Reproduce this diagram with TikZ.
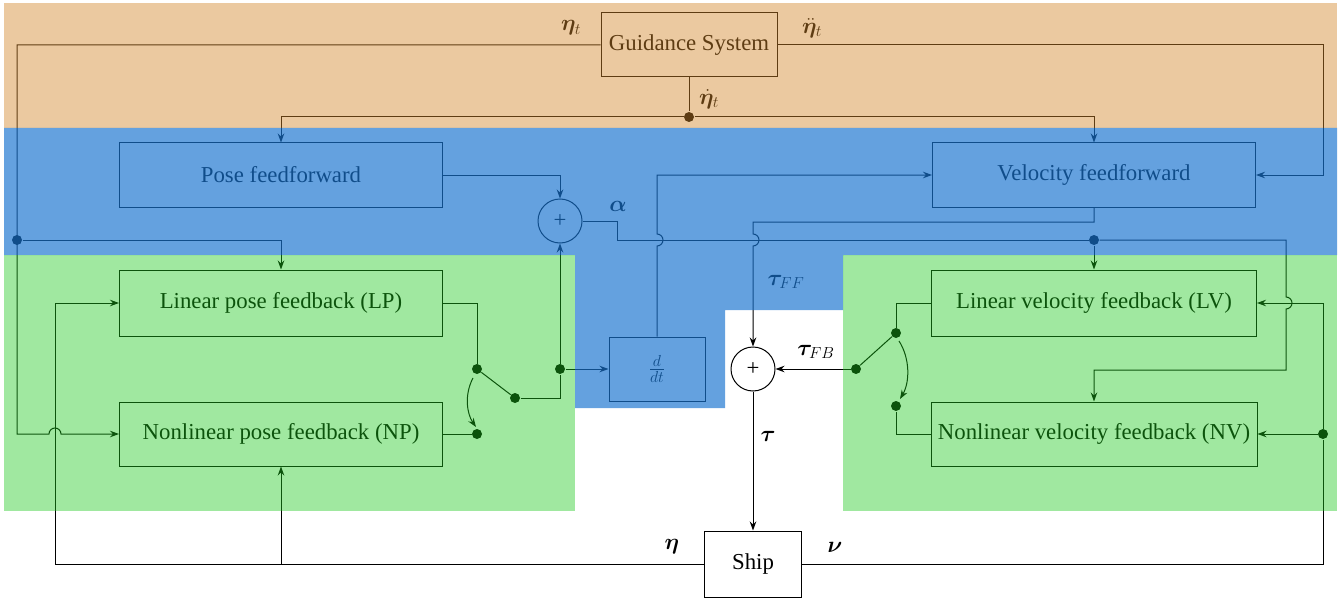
\RequirePackage{fix-cm}
\documentclass[tikz,border=0pt]{standalone}
\usepackage{amsmath,bm}
\usepackage{fontspec}
\setmainfont{Liberation Serif}
\usetikzlibrary{arrows.meta,positioning,calc}

\definecolor{guidcol}{RGB}{210,135,44}
\definecolor{ffcol}{RGB}{24,115,207}
\definecolor{fbcol}{RGB}{29,200,29}

\begin{document}
\begin{tikzpicture}[x=1pt, y=-1pt, >={Stealth[length=9pt,width=6.5pt]}, line width=1pt,
  font=\fontsize{22.8}{27}\selectfont]
\tikzstyle{block}=[draw, inner sep=0pt, minimum height=64pt]
\tikzstyle{summer}=[draw, circle, inner sep=0pt, minimum size=44pt]
\tikzstyle{junc}=[circle, fill, inner sep=0pt, minimum size=10pt]
\useasboundingbox (0,0) rectangle (1341,599);

% blocks
\node[block, minimum width=176pt]  (GS)   at (689,45)  {Guidance System};
\node[block, minimum width=323pt]  (PFF)  at (281,175) {Pose feedforward};
\node[block, minimum width=323pt]  (VFF)  at (1094,175) {Velocity feedforward};
\node[summer]                      (S1)   at (560,221) {+};
\node[block, minimum width=323pt, minimum height=66pt] (LP) at (281,303) {Linear pose feedback (LP)};
\node[block, minimum width=323pt]  (NP)   at (281,434) {Nonlinear pose feedback (NP)};
\node[block, minimum width=96pt]   (DDT)  at (657,369) {$\frac{d}{dt}$};
\node[summer]                      (S2)   at (753,369) {+};
\node[block, minimum width=325pt, minimum height=66pt] (LV) at (1094,303) {Linear velocity feedback (LV)};
\node[block, minimum width=326pt]  (NV)   at (1094,434) {Nonlinear velocity feedback (NV)};
\node[block, minimum width=97pt, minimum height=66pt] (SHIP) at (753,564) {Ship};

% junctions
\node[junc] (J1) at (17,240) {};
\node[junc] (J2) at (689,117) {};
\node[junc] (J3) at (1094,240) {};
\node[junc] (P1) at (477,369) {};
\node[junc] (P2) at (515,398) {};
\node[junc] (P3) at (477,434) {};
\node[junc] (P4) at (560,369) {};
\node[junc] (V1) at (896,333) {};
\node[junc] (V2) at (896,406) {};
\node[junc] (V3) at (856,369) {};
\node[junc] (N1) at (1323,434) {};

% guidance signals
\draw[->] (GS.west) -- (17,45) -- (17,434) -- (49,434) arc[start angle=180, end angle=360, radius=6] -- (NP.west);
\draw[->] (J1) -| (LP.north);
\draw[->] (GS.east) -- (1323,45) |- (VFF.east);
\draw (GS.south) -- (J2);
\draw[->] (J2) -| (PFF.north);
\draw[->] (J2) -| (VFF.north);

% feedforward
\draw[->] (PFF.east) -| (S1.north);
\draw (S1.east) -- (617,221) -- (617,240) -- (J3);
\draw[->] (J3) -- (LV.north);
\draw[->] (J3) -- (1286,240) -- (1286,297) arc[start angle=-90, end angle=90, radius=6] -- (1286,370) -| (NV.north);
\draw[->] (VFF.south) -- (1094,222) -- (753,222) -- (753,234) arc[start angle=-90, end angle=90, radius=6] -- (S2.north);
\draw[->] (DDT.north) -- (657,246) arc[start angle=90, end angle=-90, radius=6] |- (VFF.west);

% pose switch
\draw (LP.east) -| (P1);
\draw (P1) -- (P2);
\draw (P2) -| (P4);
\draw[->] (P4) -- (S1.south);
\draw[->] (P4) -- (DDT.west);
\draw (NP.east) -- (P3);
\draw[->] (473,378) .. controls (464,395) and (467,414) .. (476,427);

% velocity switch
\draw (LV.west) -| (V1);
\draw (NV.west) -| (V2);
\draw (V1) -- (V3);
\draw[->] (V3) -- (S2.east);
\draw[->] (899,341) .. controls (910,358) and (910,382) .. (900,399);

% plant and feedback
\draw[->] (S2.south) -- (SHIP.north);
\draw[->] (SHIP.west) -- (55,564) |- (LP.west);
\draw[->] (NP.south |- SHIP.west) -- (NP.south);
\draw (SHIP.east) -| (N1);
\draw[->] (N1) -- (NV.east);
\draw[->] (N1) |- (LV.east);

% labels
\node at (571,28)  {$\bm{\eta}_t$};
\node at (812,28)  {$\ddot{\bm{\eta}}_t$};
\node at (709,99)  {$\dot{\bm{\eta}}_t$};
\node at (618,206) {$\bm{\alpha}$};
\node at (786,282) {$\bm{\tau}_{FF}$};
\node at (816,352) {$\bm{\tau}_{FB}$};
\node at (768,436) {$\bm{\tau}$};
\node at (672,547) {$\bm{\eta}$};
\node at (835,547) {$\bm{\nu}$};

% regions
\fill[guidcol, opacity=0.45] (4,3) rectangle (1337,128);
\fill[ffcol, opacity=0.67] (4,128) -- (1337,128) -- (1337,255) -- (843,255) -- (843,310) -- (725,310)
  -- (725,408) -- (575,408) -- (575,255) -- (4,255) -- cycle;
\fill[fbcol, opacity=0.42] (4,255) rectangle (575,511);
\fill[fbcol, opacity=0.42] (843,255) rectangle (1337,511);
\end{tikzpicture}
\end{document}
